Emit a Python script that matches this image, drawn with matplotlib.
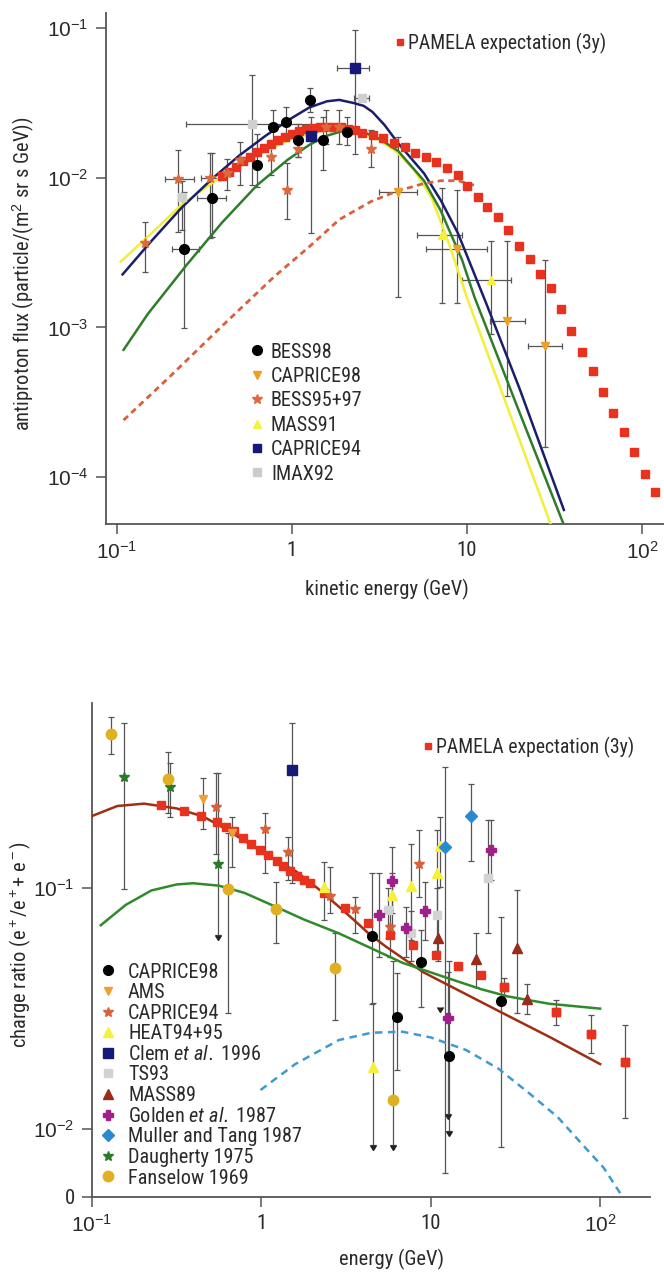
import numpy as np
import matplotlib
matplotlib.use('Agg')
import matplotlib.pyplot as plt
from matplotlib.lines import Line2D
import matplotlib.lines as mlines
from matplotlib.ticker import NullLocator
from matplotlib import font_manager as fm

# ---------- font choice: prefer a condensed sans like the original ----------
_names = {f.name for f in fm.fontManager.ttflist}
COND, STRETCH = None, 'normal'
for n in ['Liberation Sans Narrow', 'Roboto Condensed', 'Open Sans Condensed',
          'Noto Sans Condensed', 'Arial Narrow']:
    if n in _names:
        COND = n
        break
if COND is None:
    dv = [f for f in fm.fontManager.ttflist
          if f.name == 'DejaVu Sans' and str(f.stretch) in ('condensed', 'semi-condensed')]
    if dv:
        COND, STRETCH = 'DejaVu Sans', 'condensed'
    else:
        COND = 'Roboto' if 'Roboto' in _names else 'Liberation Sans'
plt.rcParams['font.family'] = [COND, 'Liberation Sans', 'DejaVu Sans']
plt.rcParams['font.stretch'] = STRETCH
plt.rcParams['mathtext.fontset'] = 'custom'
plt.rcParams['mathtext.rm'] = 'Liberation Sans'
plt.rcParams['mathtext.it'] = COND + ':italic'
plt.rcParams['mathtext.bf'] = 'Liberation Sans:bold'

# ================= TOP PANEL DATA (antiproton flux) =================
pam_top_E = [0.398, 0.437, 0.479, 0.525, 0.575, 0.631, 0.692, 0.759, 0.832, 0.912, 1.0, 1.096,
             1.202, 1.318, 1.445, 1.585, 1.738, 1.905, 2.089, 2.291, 2.512, 2.90, 3.32, 3.84,
             4.42, 5.07, 5.81, 6.67, 7.69, 8.87, 10.0, 11.5, 13.0, 15.1, 17.2, 19.9, 22.9,
             26.3, 30.2, 34.3, 39.4, 45.2, 52.2, 59.8, 68.7, 79.1, 90.6, 104, 119]
pam_top_F = [0.0102, 0.01096, 0.01175, 0.01288, 0.0138, 0.01479, 0.01585, 0.0168, 0.0178,
             0.0186, 0.0195, 0.0204, 0.0210, 0.0215, 0.0218, 0.0219, 0.0219, 0.0217, 0.0213,
             0.0207, 0.0200, 0.0192, 0.01837, 0.0170, 0.0160, 0.01459, 0.01371, 0.0127,
             0.01159, 0.0104, 0.00877, 0.00741, 0.00635, 0.00545, 0.00447, 0.00349, 0.00285,
             0.00229, 0.00182, 0.00132, 0.00094, 0.00068, 0.000508, 0.000372, 0.000269,
             0.0002, 0.000146, 0.000105, 0.0000794]

yellow_E = [0.105, 0.158, 0.234, 0.355, 0.501, 0.708, 1.0, 1.41, 1.91, 2.51, 3.16, 3.98, 5.01,
            6.31, 7.94, 10.0, 15.8, 30.2]
yellow_F = [0.00275, 0.00427, 0.00661, 0.00933, 0.0120, 0.0151, 0.0182, 0.0204, 0.0209, 0.0200,
            0.0178, 0.0148, 0.0112, 0.00724, 0.00355, 0.00158, 0.000372, 0.0000479]

navy_E = [0.1076, 0.158, 0.234, 0.355, 0.501, 0.708, 1.0, 1.259, 1.585, 1.862, 2.239, 2.57,
          2.884, 3.39, 4.04, 4.79, 5.68, 7.08, 8.87, 13.0, 20.0, 35.8]
navy_F = [0.00226, 0.0038, 0.00631, 0.0100, 0.0141, 0.0191, 0.0251, 0.0295, 0.0324, 0.0331,
          0.0316, 0.0302, 0.0275, 0.0224, 0.0170, 0.0135, 0.0107, 0.00708, 0.00427, 0.00141,
          0.000389, 0.0000603]

greenT_E = [0.109, 0.150, 0.251, 0.398, 0.631, 0.946, 1.259, 1.585, 2.06, 2.51, 3.16, 4.04,
            5.68, 7.08, 9.38, 11.07, 20.0, 35.8]
greenT_F = [0.000708, 0.00123, 0.00263, 0.00501, 0.00891, 0.0132, 0.0166, 0.0191, 0.0209,
            0.0204, 0.0182, 0.0151, 0.00955, 0.00603, 0.00282, 0.00158, 0.000269, 0.0000479]

dashT_E = [0.109, 0.2, 0.398, 0.794, 1.259, 1.862, 2.818, 3.98, 5.62, 7.08, 8.91, 10.96]
dashT_F = [0.00024, 0.000468, 0.00102, 0.00219, 0.00347, 0.00525, 0.00692, 0.00813, 0.00912,
           0.00955, 0.00955, 0.00891]

bess98_E = [0.241, 0.351, 0.634, 0.78, 0.922, 1.084, 1.274, 1.50, 2.07]
bess98_F = [0.00336, 0.00736, 0.01225, 0.0219, 0.0236, 0.0178, 0.033, 0.0178, 0.0202]
bess98_lo = [0.00099, 0.00402, 0.00867, 0.0169, 0.0178, 0.01377, 0.0276, 0.0112, 0.0165]
bess98_hi = [0.00803, 0.01452, 0.0197, 0.0283, 0.0298, 0.023, 0.0395, 0.0255, 0.0255]
bess98_Elo = [0.207, 0.285, 0.634, 0.78, 0.922, 1.084, 1.274, 1.50, 2.07]
bess98_Ehi = [0.294, 0.422, 0.634, 0.78, 0.922, 1.084, 1.274, 1.50, 2.07]

cap98_E = [4.05, 8.75, 17.0, 28.0]
cap98_F = [0.00803, 0.00336, 0.0011, 0.000746]
cap98_lo = [0.0016, 0.00145, 0.00035, 0.00016]
cap98_hi = [0.01875, 0.00824, 0.0038, 0.0028]
cap98_Elo = [3.15, 5.82, 13.5, 22.2]
cap98_Ehi = [5.21, 13.1, 21.6, 34.8]

bess9597_E = [0.144, 0.222, 0.341, 0.427, 0.505, 0.759, 0.938, 1.089, 1.566, 1.85, 2.82]
bess9597_F = [0.00369, 0.00973, 0.0100, 0.01067, 0.0131, 0.01377, 0.00824, 0.01567, 0.0219,
              0.0219, 0.01567]
bess9597_lo = [0.00234, 0.00435, 0.00394, 0.00824, 0.0089, 0.0104, 0.00533, 0.0138, 0.0169,
               0.0169, 0.0118]
bess9597_hi = [0.00506, 0.0153, 0.0146, 0.0134, 0.0174, 0.0178, 0.01245, 0.0185, 0.0283,
               0.0283, 0.0208]
bess9597_Elo = [0.144, 0.188, 0.30, 0.427, 0.505, 0.759, 0.938, 1.089, 1.566, 1.85, 2.82]
bess9597_Ehi = [0.144, 0.277, 0.39, 0.427, 0.505, 0.759, 0.938, 1.089, 1.566, 1.85, 2.82]

mass91_E = [7.2, 13.8]
mass91_F = [0.00412, 0.00206]
mass91_lo = [0.00145, 0.00091]
mass91_hi = [0.0085, 0.0038]
mass91_Elo = [5.21, 9.35]
mass91_Ehi = [9.35, 17.8]

cap94t_E = [2.29, 1.29]
cap94t_F = [0.0537, 0.019]
cap94t_lo = [0.0145, 0.00424]
cap94t_hi = [0.097, 0.0255]
cap94t_Elo = [1.80, 1.29]
cap94t_Ehi = [2.74, 1.29]

imax_E = [0.589, 2.52, 0.234]
imax_F = [0.023, 0.0343, 0.00745]
imax_lo = [0.0089, 0.0343, 0.0045]
imax_hi = [0.0485, 0.0343, 0.0095]
imax_Elo = [0.248, 2.26, 0.234]
imax_Ehi = [1.29, 2.74, 0.234]

top_legend_labels = ['BESS98', 'CAPRICE98', 'BESS95+97', 'MASS91', 'CAPRICE94', 'IMAX92']

# ================= BOTTOM PANEL DATA (charge ratio) =================
pam_bot_E = [0.256, 0.351, 0.441, 0.550, 0.617, 0.692, 0.776, 0.871, 0.977, 1.096, 1.23, 1.349,
             1.479, 1.622, 1.778, 1.95, 2.34, 3.12, 4.29, 5.71, 7.84, 10.8, 14.4, 19.7, 27.0,
             54.6, 87.9, 140]
pam_bot_R = [0.222, 0.209, 0.199, 0.188, 0.180, 0.172, 0.162, 0.153, 0.1445, 0.1365, 0.129,
             0.123, 0.1175, 0.1122, 0.1084, 0.1047, 0.095, 0.0828, 0.0713, 0.0638, 0.058,
             0.0527, 0.0476, 0.0435, 0.0389, 0.0305, 0.0249, 0.019]
pamerr_E = [27.0, 54.6, 87.9, 140]
pamerr_R = [0.0389, 0.0305, 0.0249, 0.019]
pamerr_lo = [0.0355, 0.027, 0.0207, 0.0111]
pamerr_hi = [0.0425, 0.0343, 0.0297, 0.027]

brown_E = [0.1, 0.141, 0.203, 0.316, 0.454, 0.631, 0.906, 1.259, 1.61, 2.14, 2.86, 3.55, 4.29,
           5.37, 6.79, 9.06, 16.1, 28.6, 50.9, 100]
brown_R = [0.199, 0.219, 0.224, 0.214, 0.198, 0.174, 0.148, 0.129, 0.117, 0.100, 0.0838,
           0.0733, 0.0649, 0.0575, 0.0513, 0.0447, 0.0363, 0.0295, 0.024, 0.0186]

greenB_E = [0.1127, 0.158, 0.224, 0.316, 0.394, 0.562, 0.794, 1.208, 1.778, 2.864, 4.467, 6.79,
            12.1, 19.95, 28.6, 50.1, 100]
greenB_R = [0.0701, 0.0851, 0.0977, 0.1035, 0.1047, 0.1023, 0.0955, 0.0838, 0.0741, 0.0649,
            0.0562, 0.049, 0.0427, 0.038, 0.0355, 0.0331, 0.0316]

blue_E = [0.989, 1.585, 2.864, 4.467, 6.79, 10.0, 16.1, 25.1, 38.2, 56.2, 80.7, 104.7, 131.8]
blue_R = [0.01452, 0.0186, 0.0234, 0.0251, 0.02535, 0.024, 0.0213, 0.0178, 0.01406, 0.0112,
          0.00845, 0.00692, 0.0054]

c98b_E = [4.49, 8.71, 6.34, 12.9, 26.0]
c98b_R = [0.0632, 0.0494, 0.0292, 0.0201, 0.034]
c98b_lo = [0.033, 0.0321, 0.0176, 0.0098, 0.00845]
c98b_hi = [0.115, 0.067, 0.0443, 0.05, 0.0758]

ams_E = [0.454, 0.671]
ams_R = [0.235, 0.169]
ams_lo = [0.175, 0.122]
ams_hi = [0.285, 0.198]

c94b_E = [0.54, 1.05, 1.44, 2.55, 3.57, 5.78, 8.55]
c94b_R = [0.217, 0.176, 0.141, 0.0927, 0.0816, 0.0692, 0.126]
c94b_lo = [0.139, 0.115, 0.108, 0.0785, 0.0649, 0.0519, 0.092]
c94b_hi = [0.299, 0.204, 0.163, 0.1225, 0.092, 0.081, 0.174]

heat_E = [2.34, 5.89, 7.62, 10.9, 11.4, 4.54]
heat_R = [0.101, 0.0935, 0.102, 0.116, 0.149, 0.0181]
heat_lo = [0.0736, 0.0649, 0.0608, 0.0785, 0.101, 0.0086]
heat_hi = [0.1285, 0.115, 0.153, 0.174, 0.198, 0.0333]

clem_E = [1.52]
clem_R = [0.31]
clem_lo = [0.105]
clem_hi = [0.482]

ts93_E = [5.62, 7.62, 10.96, 21.9]
ts93_R = [0.081, 0.0649, 0.0772, 0.110]
ts93_lo = [0.062, 0.05, 0.055, 0.0649]
ts93_hi = [0.1, 0.08, 0.1, 0.191]

mass89_E = [11.1, 18.6, 32.1, 37.1]
mass89_R = [0.0618, 0.051, 0.0562, 0.0348]
mass89_lo = [0.05, 0.0389, 0.0303, 0.03]
mass89_hi = [0.075, 0.065, 0.098, 0.04]

golden_E = [5.89, 4.94, 7.19, 9.22, 22.8, 12.6]
golden_R = [0.107, 0.0772, 0.068, 0.0803, 0.144, 0.0288]
golden_lo = [0.0785, 0.0519, 0.0519, 0.0608, 0.108, 0.0115]
golden_hi = [0.148, 0.115, 0.0837, 0.106, 0.191, 0.045]

muller_E = [12.1, 17.4]
muller_R = [0.148, 0.1995]
muller_lo = [0.0066, 0.13]
muller_hi = [0.318, 0.27]

daugh_E = [0.154, 0.29, 0.558]
daugh_R = [0.288, 0.263, 0.126]
daugh_lo = [0.0988, 0.198, 0.0638]
daugh_hi = [0.485, 0.329, 0.30]

fans_E = [0.129, 0.28, 0.631, 1.22, 2.71, 5.98]
fans_R = [0.435, 0.283, 0.0988, 0.0818, 0.0465, 0.0132]
fans_lo = [0.36, 0.204, 0.0303, 0.059, 0.0283, 0.0086]
fans_hi = [0.511, 0.368, 0.169, 0.106, 0.065, 0.05]

arrow_E = [0.558, 4.54, 5.98, 11.4, 12.6, 12.9]
arrow_R = [0.0638, 0.0086, 0.0086, 0.032, 0.0115, 0.0098]

bot_legend_labels = ['CAPRICE98', 'AMS', 'CAPRICE94', 'HEAT94+95', 'Clem $\\mathit{et\\ al.}$ 1996',
                     'TS93', 'MASS89', 'Golden $\\mathit{et\\ al.}$ 1987', 'Muller and Tang 1987',
                     'Daugherty 1975', 'Fanselow 1969']

# ================= STYLE =================
W, H = 664, 1272
ERR = '#555555'
TXT = '#2a2a2a'
PAM = '#e8321e'
SPINE = '#555555'

fig = plt.figure(figsize=(W / 100, H / 100), dpi=100)
_rend = fig.canvas.get_renderer()


def text_box(s, size):
    t = fig.text(0, 0, s, fontsize=size)
    bb = t.get_window_extent(renderer=_rend)
    t.remove()
    return bb.width, bb.height


def fit_size(s, target_px):
    w, _ = text_box(s, 10)
    return 10 * target_px / w


FS_PAM = fit_size('PAMELA expectation (3y)', 198)
FS_TLEG = fit_size('CAPRICE98', 91)
FS_BLEG = fit_size('Muller and Tang 1987', 173)
FS_LAB = fit_size('kinetic energy (GeV)', 162)

ax1 = fig.add_axes([106 / W, 1 - 524 / H, (664 - 106) / W, (524 - 13) / H])
ax2 = fig.add_axes([92 / W, 1 - 1197 / H, (650 - 92) / W, (1197 - 703) / H])


def ebar(ax, E, V, lo, hi, Elo=None, Ehi=None, z=5, **kw):
    E = np.asarray(E, float)
    V = np.asarray(V, float)
    yerr = [np.clip(V - np.asarray(lo), 0, None), np.clip(np.asarray(hi) - V, 0, None)]
    xerr = None
    if Elo is not None:
        xerr = [np.clip(E - np.asarray(Elo), 0, None), np.clip(np.asarray(Ehi) - E, 0, None)]
    ax.errorbar(E, V, yerr=yerr, xerr=xerr, fmt='none', ecolor=ERR, elinewidth=0.9,
                capsize=2.5, capthick=0.9, zorder=2)
    ax.plot(E, V, linestyle='none', zorder=z, **kw)


for ax in (ax1, ax2):
    ax.set_xscale('log')
    ax.set_yscale('log')
    for s in ('top', 'right'):
        ax.spines[s].set_visible(False)
    for s in ('left', 'bottom'):
        ax.spines[s].set_color(SPINE)
        ax.spines[s].set_linewidth(1.3)
    ax.tick_params(direction='out', length=7.5, width=1.1, color=SPINE, labelsize=15,
                   labelcolor=TXT, pad=5)
    ax.xaxis.set_minor_locator(NullLocator())
    ax.yaxis.set_minor_locator(NullLocator())

# ---------- top panel ----------
ax1.set_xlim(0.0865, 133.7)
ax1.set_ylim(4.86e-5, 0.126)
ax1.plot(yellow_E, yellow_F, color='#f2ee3a', lw=1.8, zorder=3)
ax1.plot(greenT_E, greenT_F, color='#2f7d2a', lw=1.8, zorder=3)
ax1.plot(navy_E, navy_F, color='#1b1f6b', lw=1.8, zorder=3)
ax1.plot(dashT_E, dashT_F, color='#d8603c', lw=2.0, ls=(0, (2.2, 1.6)), zorder=3)
ax1.plot(pam_top_E, pam_top_F, ls='none', marker='s', ms=5.5, color=PAM, mec=PAM, zorder=4)

ebar(ax1, imax_E, imax_F, imax_lo, imax_hi, imax_Elo, imax_Ehi, marker='s', ms=6, color='#cfcfcf')
ebar(ax1, bess9597_E, bess9597_F, bess9597_lo, bess9597_hi, bess9597_Elo, bess9597_Ehi,
     marker='*', ms=7.5, color='#dd6a3c')
ebar(ax1, mass91_E, mass91_F, mass91_lo, mass91_hi, mass91_Elo, mass91_Ehi,
     marker='^', ms=6, color='#f5f23a')
ebar(ax1, cap98_E, cap98_F, cap98_lo, cap98_hi, cap98_Elo, cap98_Ehi,
     marker='v', ms=6, color='#eea022')
ebar(ax1, cap94t_E, cap94t_F, cap94t_lo, cap94t_hi, cap94t_Elo, cap94t_Ehi,
     marker='s', ms=6.5, color='#16197a')
ebar(ax1, bess98_E, bess98_F, bess98_lo, bess98_hi, bess98_Elo, bess98_Ehi,
     marker='o', ms=7, color='black', z=6)

ax1.set_xticks([0.1, 1, 10, 100])
ax1.set_xticklabels(['$10^{-1}$', '1', '10', '$10^{2}$'])
ax1.set_yticks([1e-4, 1e-3, 1e-2, 1e-1])
ax1.set_yticklabels(['$10^{-4}$', '$10^{-3}$', '$10^{-2}$', '$10^{-1}$'])
ax1.set_xlabel('kinetic energy (GeV)', fontsize=FS_LAB, color=TXT)
ax1.set_ylabel('antiproton flux (particle/(m$^2$ sr s GeV))', fontsize=FS_LAB, color=TXT)
ax1.xaxis.set_label_coords(0.504, -0.108)
ax1.yaxis.set_label_coords(-0.124, 0.49)

# ---------- bottom panel ----------
ax2.set_xlim(0.1, 197)
ax2.set_ylim(0.005224, 0.586)
ax2.plot(brown_E, brown_R, color='#a02e12', lw=1.8, zorder=3)
ax2.plot(greenB_E, greenB_R, color='#2f8a2a', lw=1.8, zorder=3)
ax2.plot(blue_E, blue_R, color='#3c9bcf', lw=1.8, ls=(0, (3, 2.2)), zorder=3)
ax2.plot(pam_bot_E, pam_bot_R, ls='none', marker='s', ms=5.5, color=PAM, zorder=4)
ebar(ax2, pamerr_E, pamerr_R, pamerr_lo, pamerr_hi, marker='s', ms=5.5, color=PAM)

ebar(ax2, ts93_E, ts93_R, ts93_lo, ts93_hi, marker='s', ms=6, color='#d2d2d2')
ebar(ax2, c94b_E, c94b_R, c94b_lo, c94b_hi, marker='*', ms=7.5, color='#d8603a')
ebar(ax2, ams_E, ams_R, ams_lo, ams_hi, marker='v', ms=6, color='#eea030')
ebar(ax2, heat_E, heat_R, heat_lo, heat_hi, marker='^', ms=6.5, color='#f7f03a')
ebar(ax2, mass89_E, mass89_R, mass89_lo, mass89_hi, marker='^', ms=6.5, color='#9a2a1a')
ebar(ax2, golden_E, golden_R, golden_lo, golden_hi, marker='P', ms=7.5, color='#a0208a')
ebar(ax2, muller_E, muller_R, muller_lo, muller_hi, marker='D', ms=6, color='#2a8ad0')
ebar(ax2, daugh_E, daugh_R, daugh_lo, daugh_hi, marker='*', ms=7, color='#2a7a2a')
ebar(ax2, fans_E, fans_R, fans_lo, fans_hi, marker='o', ms=7.5, color='#e0b020')
ebar(ax2, clem_E, clem_R, clem_lo, clem_hi, marker='s', ms=7, color='#141a78')
ebar(ax2, c98b_E, c98b_R, c98b_lo, c98b_hi, marker='o', ms=7, color='black', z=6)
ax2.plot(arrow_E, arrow_R, ls='none', marker=mlines.CARETDOWNBASE, ms=5, color='#222222', zorder=2)

ylo = ax2.get_ylim()[0]
ax2.set_xticks([0.1, 1, 10, 100])
ax2.set_xticklabels(['$10^{-1}$', '1', '10', '$10^{2}$'])
ax2.set_yticks([ylo, 1e-2, 1e-1])
ax2.set_yticklabels(['0', '$10^{-2}$', '$10^{-1}$'])
ax2.set_xlabel('energy (GeV)', fontsize=FS_LAB, color=TXT)
ax2.set_ylabel('charge ratio (e$^+$/e$^+$+ e$^-$)', fontsize=FS_LAB, color=TXT)
ax2.xaxis.set_label_coords(0.536, -0.105)
ax2.yaxis.set_label_coords(-0.106, 0.51)

# ---------- legends ----------
tf = fig.transFigure


def add_legend(handles, labels, fs, marker_x, text_x, first_center_y, row_px, loc='upper left'):
    fs_px = fs * 100 / 72
    _, h = text_box('BESS98', fs)
    hl_px = 16.0
    x0 = marker_x - hl_px / 2
    pad_px = text_x - (x0 + hl_px)
    ls = (row_px - h) / fs_px if row_px else 0.5
    if loc == 'upper left':
        anchor = (x0 / W, 1 - (first_center_y - h / 2) / H)
    else:
        anchor = (x0 / W, 1 - first_center_y / H)
    fig.legend(handles, labels, loc=loc, bbox_to_anchor=anchor, bbox_transform=tf,
               frameon=False, fontsize=fs, handlelength=hl_px / fs_px,
               handletextpad=pad_px / fs_px, labelspacing=ls, borderpad=0, borderaxespad=0,
               labelcolor=TXT)


h_top = [Line2D([], [], ls='none', marker='o', color='black', ms=7),
         Line2D([], [], ls='none', marker='v', color='#eea022', ms=6),
         Line2D([], [], ls='none', marker='*', color='#dd6a3c', ms=7.5),
         Line2D([], [], ls='none', marker='^', color='#f5f23a', ms=6),
         Line2D([], [], ls='none', marker='s', color='#16197a', ms=6),
         Line2D([], [], ls='none', marker='s', color='#cccccc', ms=6)]
add_legend(h_top, top_legend_labels, FS_TLEG, 257, 271, 352, 24.4)

h_bot = [Line2D([], [], ls='none', marker='o', color='black', ms=7),
         Line2D([], [], ls='none', marker='v', color='#eea030', ms=6),
         Line2D([], [], ls='none', marker='*', color='#d8603a', ms=7.5),
         Line2D([], [], ls='none', marker='^', color='#f7f03a', ms=6.5),
         Line2D([], [], ls='none', marker='s', color='#141a78', ms=6.5),
         Line2D([], [], ls='none', marker='s', color='#d2d2d2', ms=6),
         Line2D([], [], ls='none', marker='^', color='#9a2a1a', ms=6.5),
         Line2D([], [], ls='none', marker='P', color='#a0208a', ms=7.5),
         Line2D([], [], ls='none', marker='D', color='#2a8ad0', ms=6),
         Line2D([], [], ls='none', marker='*', color='#2a7a2a', ms=7),
         Line2D([], [], ls='none', marker='o', color='#e0b020', ms=7.5)]
add_legend(h_bot, bot_legend_labels, FS_BLEG, 108, 128, 972, 20.6)

h_pam = [Line2D([], [], ls='none', marker='s', color=PAM, ms=5)]
add_legend(h_pam, ['PAMELA expectation (3y)'], FS_PAM, 400, 408, 43, None, loc='center left')
add_legend(h_pam, ['PAMELA expectation (3y)'], FS_PAM, 428, 436, 747, None, loc='center left')

fig.savefig('out.png', dpi=100)
